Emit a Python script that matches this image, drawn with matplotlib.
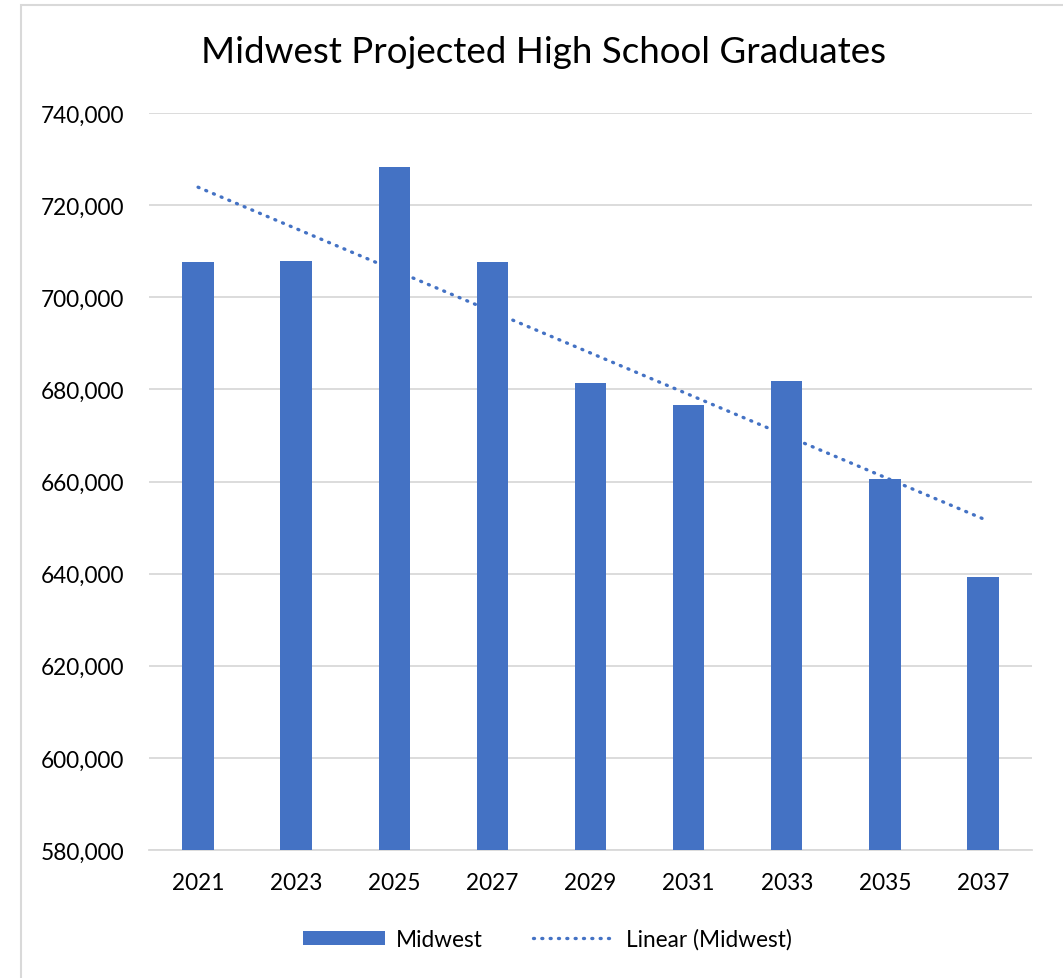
import numpy as np
import matplotlib.pyplot as plt
from matplotlib.patches import Rectangle
from matplotlib.ticker import FuncFormatter

plt.rcParams['font.family'] = ['Lato', 'DejaVu Sans']

years = ['2021', '2023', '2025', '2027', '2029', '2031', '2033', '2035', '2037']
graduates = [707700, 707900, 728200, 707600, 681400, 676700, 681900, 660500, 639200]

blue = '#4472C4'
grid_col = '#d9d9d9'

fig = plt.figure(figsize=(10.63, 9.79), dpi=100)
ax = fig.add_axes([0.1402, 0.1307, 0.8306, 0.7529])

x = np.arange(len(years))
bars = ax.bar(x, graduates, width=0.32, color=blue, label='Midwest', zorder=3)

# linear trendline
slope, intercept = np.polyfit(x, graduates, 1)
trend, = ax.plot(x, slope * x + intercept, color=blue, linewidth=2.4,
                 linestyle=(0, (0.3, 2.2)), dash_capstyle='round',
                 label='Linear (Midwest)', zorder=4)

ax.set_xlim(-0.5, len(years) - 0.5)
ax.set_ylim(580000, 740000)
ax.set_yticks(np.arange(580000, 740001, 20000))
ax.yaxis.set_major_formatter(FuncFormatter(lambda v, p: f'{int(v):,}'))
ax.set_xticks(x)
ax.set_xticklabels(years)

ax.grid(axis='y', color=grid_col, linewidth=1.3, zorder=0)
for s in ['top', 'right', 'left']:
    ax.spines[s].set_visible(False)
ax.spines['bottom'].set_color(grid_col)
ax.spines['bottom'].set_linewidth(1.3)
ax.tick_params(axis='both', length=0, labelsize=16.3, labelcolor='black')
ax.tick_params(axis='y', pad=18)
ax.tick_params(axis='x', pad=16)

fig.text(0.511, 0.946, 'Midwest Projected High School Graduates',
         ha='center', va='center', fontsize=26.5)

ax.legend(handles=[bars, trend], loc='center', bbox_to_anchor=(0.515, 1 - 940 / 979),
          bbox_transform=fig.transFigure, ncol=2, frameon=False, fontsize=16.3,
          handlelength=3.6, handleheight=0.55, handletextpad=0.5,
          columnspacing=2.2)

# chart border
fig.patches.append(Rectangle((21 / 1063, -0.1), 1.2, 1.1 - 6 / 979,
                             transform=fig.transFigure, fill=False,
                             edgecolor=grid_col, linewidth=1.5))

fig.savefig('out.png', dpi=100)
